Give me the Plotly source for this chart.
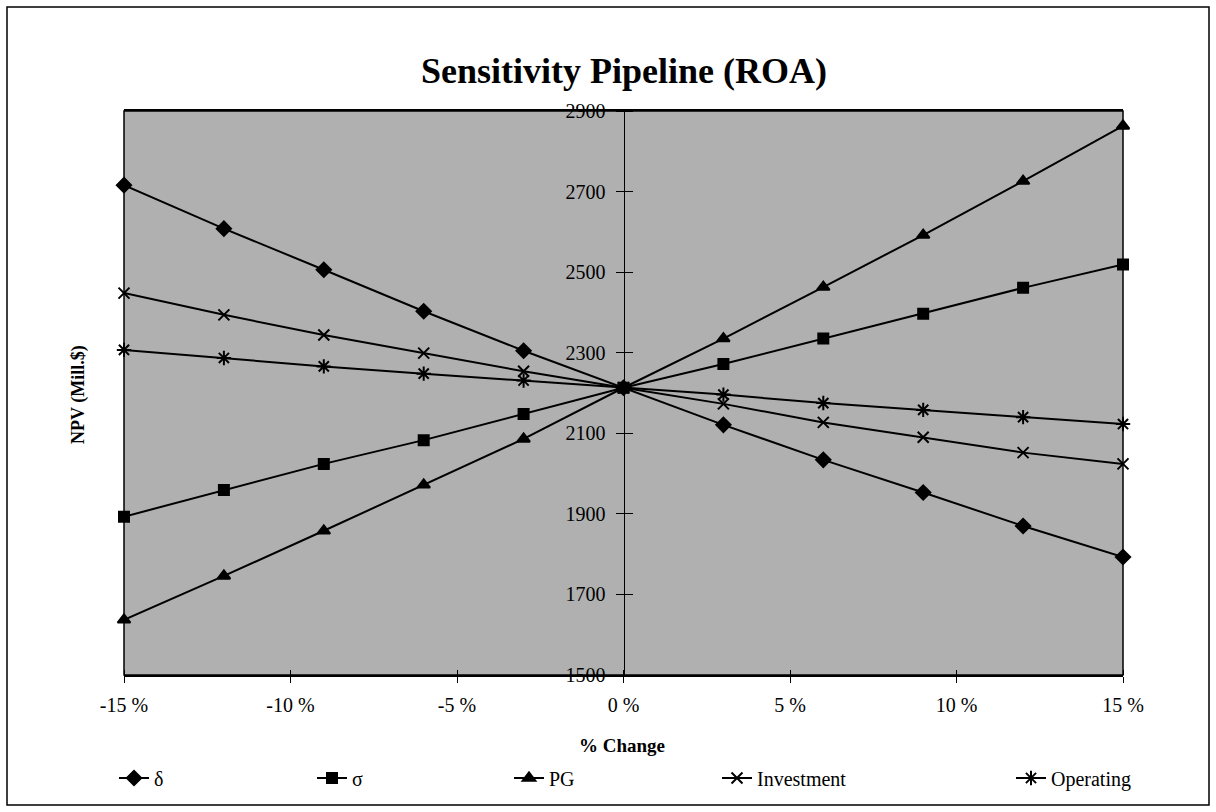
import plotly.graph_objects as go

pct_change = [-15, -12, -9, -6, -3, 0, 3, 6, 9, 12, 15]
delta_npv = [2716, 2608, 2506, 2403, 2305, 2213, 2121, 2034, 1953, 1870, 1793]
sigma_npv = [1893, 1959, 2024, 2083, 2148, 2213, 2272, 2335, 2397, 2461, 2519]
pg_npv = [1637, 1746, 1858, 1972, 2086, 2213, 2335, 2463, 2592, 2726, 2863]
investment_npv = [2448, 2394, 2344, 2299, 2254, 2213, 2173, 2127, 2090, 2052, 2024]
operating_npv = [2307, 2287, 2266, 2248, 2231, 2213, 2196, 2175, 2158, 2140, 2123]

x_tick_vals = [-15, -10, -5, 0, 5, 10, 15]
x_tick_text = ["-15 %", "-10 %", "-5 %", "0 %", "5 %", "10 %", "15 %"]

series = [
    ("δ", delta_npv, "diamond", 11),
    ("σ", sigma_npv, "square", 10),
    ("PG", pg_npv, "triangle-up", 11),
    ("Investment", investment_npv, "x-thin", 11),
    ("Operating", operating_npv, "asterisk", 12),
]

FONT = "Liberation Serif, Times New Roman, serif"

W, H = 1216, 812
L, R, T, B = 124, 1123, 111, 675


def px_x(p):
    return (p - L) / (R - L)


def px_y(p):
    return (B - p) / (B - T)


legend_px = [114, 312, 509, 717, 1011]
legend_ids = ["legend", "legend2", "legend3", "legend4", "legend5"]

fig = go.Figure()
for (name, vals, sym, size), lid in zip(series, legend_ids):
    fig.add_trace(go.Scatter(
        x=pct_change, y=vals, name=name, mode="lines+markers",
        line=dict(color="black", width=2),
        marker=dict(symbol=sym, size=size, color="black",
                    line=dict(color="black", width=2)),
        cliponaxis=False, legend=lid,
    ))

# invisible helper so the secondary (tick-only) axes are drawn
fig.add_trace(go.Scatter(x=[0], y=[2200], xaxis="x2", yaxis="y2",
                         mode="markers", marker=dict(opacity=0),
                         showlegend=False, hoverinfo="skip"))

legend_layout = {}
for lid, lx in zip(legend_ids, legend_px):
    legend_layout[lid] = dict(
        orientation="h", x=px_x(lx), xanchor="left",
        y=px_y(778), yanchor="middle",
        font=dict(family=FONT, size=20, color="black"),
        bgcolor="rgba(0,0,0,0)",
    )

fig.update_layout(
    width=W, height=H,
    margin=dict(l=L, r=W - R, t=T, b=H - B),
    paper_bgcolor="white",
    plot_bgcolor="#b0b0b0",
    font=dict(family=FONT, color="black", size=20),
    title=dict(text="<b>Sensitivity Pipeline (ROA)</b>", x=px_x(624), xref="paper",
               xanchor="center", y=1 - 70 / H, yanchor="middle",
               font=dict(family=FONT, size=36, color="black")),
    xaxis=dict(range=[-15, 15], tickvals=x_tick_vals, ticktext=x_tick_text,
               ticks="outside", ticklen=6, tickcolor="black",
               ticklabelstandoff=5,
               showline=True, linecolor="black", linewidth=2, mirror=True,
               showgrid=False, zeroline=False,
               tickfont=dict(family=FONT, size=20)),
    xaxis2=dict(range=[-15, 15], tickvals=x_tick_vals,
                overlaying="x", anchor="free", position=0, side="top",
                ticks="outside", ticklen=5, tickcolor="black",
                showticklabels=False, showline=False, showgrid=False,
                zeroline=False),
    yaxis=dict(range=[1500, 2900], dtick=200, tick0=1500,
               anchor="free", position=0.5,
               ticks="outside", ticklen=8, tickcolor="black",
               ticklabelstandoff=6,
               showline=True, linecolor="black", linewidth=1,
               showgrid=False, zeroline=False,
               tickfont=dict(family=FONT, size=20)),
    yaxis2=dict(range=[1500, 2900], dtick=200, tick0=1500,
                overlaying="y", anchor="free", position=0.5, side="right",
                ticks="outside", ticklen=8, tickcolor="black",
                showticklabels=False, showline=False, showgrid=False,
                zeroline=False),
    showlegend=True,
    hovermode=False,
    shapes=[
        dict(type="rect", xref="paper", yref="paper",
             x0=px_x(7), x1=px_x(1209), y0=px_y(805), y1=px_y(7),
             line=dict(color="black", width=1.5), layer="below"),
        dict(type="rect", xref="paper", yref="paper",
             x0=0, x1=1, y0=0, y1=1,
             line=dict(color="black", width=1.5), layer="above"),
    ],
    annotations=[
        dict(text="<b>NPV (Mill.$)</b>", xref="paper", yref="paper",
             x=px_x(78), y=px_y(395), textangle=-90, showarrow=False,
             xanchor="center", yanchor="middle",
             font=dict(family=FONT, size=18, color="black")),
        dict(text="<b>% Change</b>", xref="paper", yref="paper",
             x=px_x(622), y=px_y(745), showarrow=False,
             xanchor="center", yanchor="middle",
             font=dict(family=FONT, size=19, color="black")),
    ],
    **legend_layout,
)

fig.write_html("out.html")
